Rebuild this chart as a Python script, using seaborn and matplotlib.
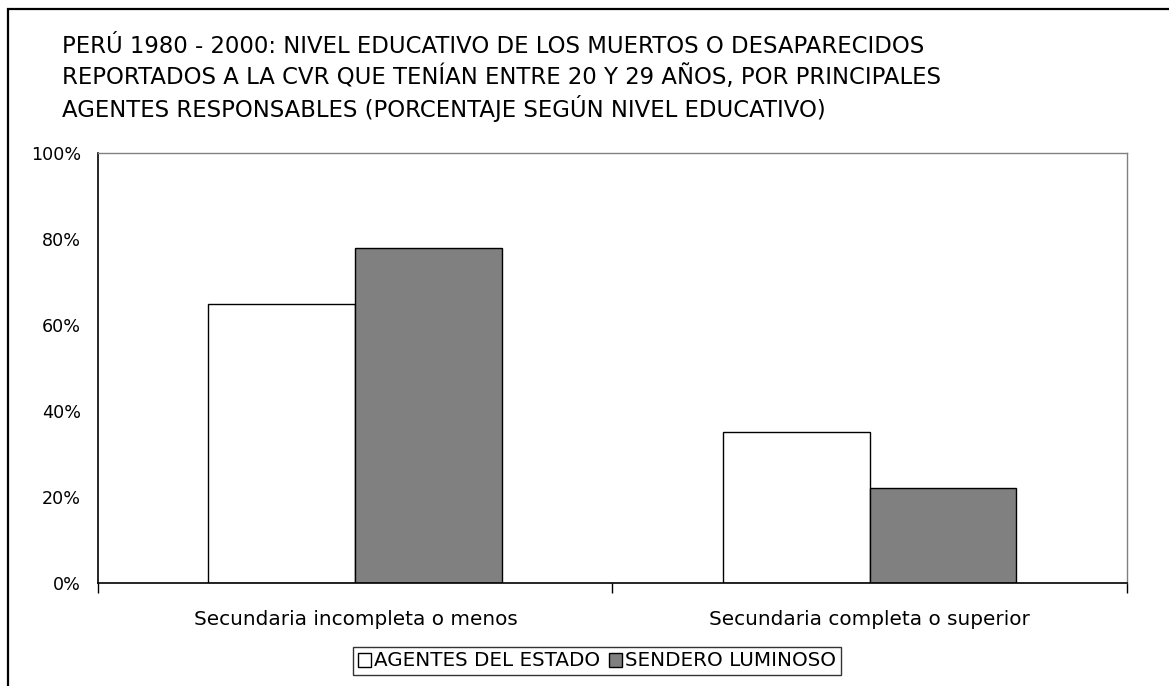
import seaborn as sns
import matplotlib.pyplot as plt
import pandas as pd
from matplotlib.patches import Rectangle
from matplotlib.ticker import FixedLocator, FuncFormatter

sns.set_style('white')
plt.rcParams['font.family'] = ['DejaVu Sans']
plt.rcParams['text.color'] = 'black'
plt.rcParams['xtick.color'] = 'black'
plt.rcParams['ytick.color'] = 'black'

TITLE = ('PERÚ 1980 - 2000: NIVEL EDUCATIVO DE LOS MUERTOS O DESAPARECIDOS\n'
         'REPORTADOS A LA CVR QUE TENÍAN ENTRE 20 Y 29 AÑOS, POR PRINCIPALES\n'
         'AGENTES RESPONSABLES (PORCENTAJE SEGÚN NIVEL EDUCATIVO)')

niveles = ['Secundaria incompleta o menos', 'Secundaria completa o superior']
agentes = ['AGENTES DEL ESTADO', 'SENDERO LUMINOSO']
estado = [64.9, 35.1]
sendero = [77.8, 22.2]

df = pd.DataFrame({
    'nivel': niveles * 2,
    'agente': [agentes[0]] * 2 + [agentes[1]] * 2,
    'pct': estado + sendero,
})

fig = plt.figure(figsize=(11.69, 6.86), dpi=100)
ax = fig.add_axes([0.0841, 0.1497, 0.8797, 0.6277])

sns.barplot(data=df, x='nivel', y='pct', hue='agente', order=niveles,
            hue_order=agentes, palette=['white', '#808080'],
            edgecolor='black', linewidth=1.0, width=2 / 3.5,
            saturation=1, ax=ax)

ax.set_xlim(-0.5, 1.5)
ax.set_ylim(0, 100)
ax.set_xlabel('')
ax.set_ylabel('')

ax.yaxis.set_major_locator(FixedLocator([0, 20, 40, 60, 80, 100]))
ax.yaxis.set_major_formatter(FuncFormatter(lambda v, p: '{:d}%'.format(int(v))))
ax.tick_params(axis='y', which='major', direction='out', length=7, width=1,
               labelsize=12.6, pad=5.5)
ax.tick_params(axis='x', which='major', length=0, labelsize=14.4, pad=19)
ax.xaxis.set_minor_locator(FixedLocator([-0.5, 0.5, 1.5]))
ax.tick_params(axis='x', which='minor', direction='out', length=7, width=1,
               bottom=True)

for side in ['left', 'bottom']:
    ax.spines[side].set_color('black')
    ax.spines[side].set_linewidth(1.2)
for side in ['top', 'right']:
    ax.spines[side].set_color('#808080')
    ax.spines[side].set_linewidth(1.0)

leg = ax.legend(loc='center', bbox_to_anchor=(597 / 1169, 1 - 661 / 686),
                bbox_transform=fig.transFigure, ncol=2, frameon=True,
                fancybox=False, edgecolor='black', fontsize=14.3,
                handlelength=0.7, handleheight=0.7, handletextpad=0.15,
                columnspacing=0.4, borderpad=0.25, borderaxespad=0)
leg.get_frame().set_linewidth(1.0)
for h in leg.legend_handles:
    h.set_edgecolor('black')

fig.text(62 / 1169, 1 - 35 / 686, TITLE, ha='left', va='top', fontsize=16.4,
         linespacing=1.3)

fig.patches.append(Rectangle((8 / 1169, -0.05), 1.2, 1 - 9 / 686 + 0.05,
                             transform=fig.transFigure, fill=False,
                             edgecolor='black', linewidth=1.6))

fig.savefig('out.png', dpi=100)
